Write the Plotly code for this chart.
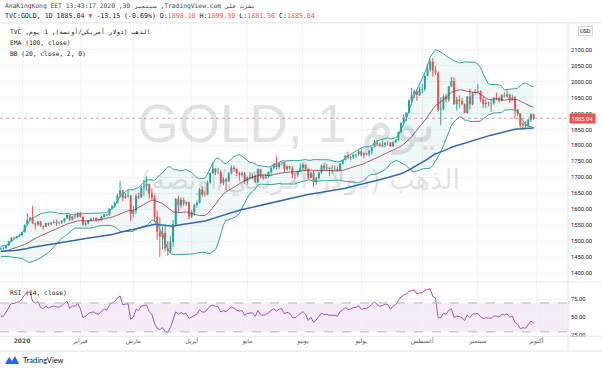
import numpy as np
import pandas as pd
import plotly.graph_objects as go

# ---------------- data (TVC:GOLD daily) ----------------
holidays = ["2019-12-25", "2020-01-01", "2020-04-10"]
dates = [d for d in pd.bdate_range("2019-12-19", "2020-09-30") if d.strftime("%Y-%m-%d") not in holidays]

opens = [
    1475, 1478, 1478, 1486, 1499, 1511, 1510, 1515,
    1518, 1528, 1552, 1566, 1574, 1556, 1552, 1562, 1548, 1545, 1557, 1552, 1557, 1560, 1558, 1558, 1563, 1571, 1582, 1567, 1577, 1576,
    1589, 1577, 1552, 1556, 1566, 1570, 1572, 1567, 1566, 1576, 1584, 1581, 1602, 1611, 1620, 1643, 1659, 1636, 1641, 1643,
    1585, 1595, 1641, 1637, 1669, 1673, 1679, 1649, 1636, 1576, 1530, 1514, 1526, 1477, 1470, 1498, 1553, 1632, 1612, 1629, 1617, 1622,
    1577, 1591, 1613, 1620, 1662, 1647, 1646, 1683, 1713, 1727, 1717, 1717, 1683, 1694, 1687, 1714, 1730, 1726, 1713, 1708, 1713,
    1687, 1700, 1701, 1705, 1685, 1725, 1703, 1698, 1702, 1716, 1730, 1743, 1732, 1745, 1748, 1725, 1734, 1729, 1709, 1708, 1718,
    1730, 1740, 1727, 1698, 1714, 1685, 1697, 1715, 1737, 1728, 1730, 1726, 1727, 1726, 1722, 1743, 1754, 1768, 1761, 1763, 1771, 1772,
    1781, 1770, 1775, 1774, 1783, 1795, 1809, 1803, 1798, 1802, 1809, 1808, 1797, 1810, 1818, 1842, 1871, 1888, 1902, 1941, 1958, 1970, 1958,
    1975, 1977, 2019, 2038, 2063, 2035, 2028, 1912, 1915, 1954, 1944, 1985, 2002, 1929, 1944, 1940, 1929, 1902, 1954, 1929, 1964,
    1968, 1970, 1944, 1930, 1934, 1932, 1932, 1947, 1946, 1940, 1957, 1954, 1960, 1944, 1950, 1912, 1900, 1863, 1868, 1862, 1881, 1898.10,
]
highs = [
    1481, 1481, 1485, 1499, 1513, 1514, 1516, 1524,
    1530, 1553, 1588, 1575, 1611, 1558, 1563, 1563, 1549, 1558, 1558, 1561, 1565, 1568, 1562, 1567, 1573, 1588, 1582, 1578, 1589, 1591,
    1592, 1577, 1562, 1567, 1574, 1575, 1575, 1570, 1580, 1585, 1585, 1603, 1612, 1624, 1649, 1689, 1661, 1650, 1660, 1645,
    1610, 1649, 1652, 1674, 1692, 1703, 1680, 1665, 1645, 1596, 1575, 1546, 1548, 1500, 1514, 1566, 1635, 1642, 1637, 1636, 1625, 1625,
    1597, 1617, 1627, 1667, 1671, 1656, 1690, 1715, 1747, 1729, 1730, 1723, 1700, 1698, 1716, 1738, 1738, 1727, 1718, 1718, 1717,
    1703, 1716, 1711, 1710, 1728, 1725, 1709, 1712, 1719, 1732, 1744, 1765, 1746, 1748, 1749, 1737, 1736, 1735, 1715, 1722, 1744,
    1745, 1741, 1728, 1718, 1720, 1701, 1718, 1740, 1745, 1743, 1733, 1738, 1737, 1733, 1746, 1756, 1769, 1780, 1768, 1773, 1774, 1785,
    1788, 1779, 1777, 1786, 1797, 1818, 1818, 1809, 1816, 1810, 1813, 1811, 1813, 1820, 1843, 1872, 1898, 1905, 1945, 1981, 1975, 1977, 1984,
    1994, 2020, 2055, 2070, 2075, 2049, 2032, 1951, 1960, 1962, 1987, 2015, 2014, 1953, 1957, 1949, 1932, 1954, 1977, 1968, 1977,
    1992, 1973, 1953, 1946, 1937, 1944, 1952, 1966, 1953, 1962, 1966, 1973, 1962, 1960, 1955, 1915, 1901, 1875, 1876, 1883, 1901, 1899.39,
]
lows = [
    1473, 1474, 1476, 1485, 1498, 1506, 1508, 1512,
    1517, 1527, 1551, 1563, 1553, 1536, 1549, 1545, 1536, 1545, 1548, 1550, 1555, 1548, 1552, 1553, 1558, 1570, 1563, 1565, 1570, 1573,
    1573, 1548, 1547, 1552, 1561, 1567, 1562, 1561, 1564, 1574, 1578, 1580, 1599, 1604, 1618, 1636, 1625, 1632, 1636, 1563,
    1575, 1586, 1632, 1635, 1642, 1659, 1633, 1630, 1561, 1504, 1451, 1475, 1467, 1455, 1464, 1482, 1546, 1593, 1605, 1609, 1611, 1568,
    1572, 1580, 1605, 1618, 1640, 1640, 1644, 1680, 1712, 1707, 1711, 1679, 1675, 1659, 1686, 1709, 1718, 1703, 1690, 1702, 1680,
    1677, 1693, 1695, 1683, 1683, 1696, 1692, 1695, 1699, 1707, 1725, 1726, 1726, 1737, 1717, 1721, 1724, 1698, 1693, 1702, 1717,
    1723, 1722, 1693, 1697, 1670, 1677, 1694, 1711, 1721, 1721, 1704, 1711, 1721, 1718, 1720, 1740, 1753, 1758, 1753, 1758, 1762, 1768,
    1765, 1760, 1769, 1766, 1771, 1794, 1797, 1796, 1795, 1795, 1800, 1796, 1796, 1807, 1813, 1838, 1866, 1877, 1900, 1926, 1950, 1940, 1955,
    1963, 1970, 2017, 2031, 2015, 2020, 1906, 1863, 1910, 1934, 1937, 1983, 1929, 1910, 1917, 1926, 1902, 1900, 1912, 1926, 1960,
    1964, 1937, 1917, 1917, 1923, 1906, 1927, 1941, 1934, 1937, 1951, 1951, 1933, 1941, 1883, 1891, 1855, 1849, 1851, 1857, 1874, 1881.36,
]
closes = [
    1478, 1478, 1486, 1499, 1511, 1510, 1515, 1517,
    1528, 1551, 1566, 1574, 1556, 1552, 1562, 1548, 1545, 1557, 1552, 1557, 1560, 1558, 1558, 1563, 1571, 1582, 1567, 1577, 1576, 1589,
    1577, 1552, 1556, 1566, 1570, 1572, 1567, 1566, 1576, 1584, 1581, 1602, 1611, 1620, 1643, 1659, 1636, 1641, 1643, 1585,
    1595, 1641, 1637, 1669, 1673, 1679, 1649, 1636, 1576, 1530, 1514, 1526, 1477, 1470, 1498, 1553, 1632, 1612, 1629, 1617, 1622, 1577,
    1591, 1613, 1620, 1662, 1647, 1646, 1683, 1713, 1727, 1717, 1717, 1683, 1694, 1687, 1714, 1730, 1726, 1713, 1708, 1713, 1687,
    1700, 1701, 1705, 1685, 1725, 1703, 1698, 1702, 1716, 1730, 1743, 1732, 1745, 1748, 1725, 1734, 1729, 1709, 1708, 1718, 1730,
    1740, 1727, 1698, 1714, 1685, 1697, 1715, 1737, 1728, 1730, 1726, 1727, 1726, 1722, 1743, 1754, 1768, 1761, 1763, 1771, 1772, 1781,
    1770, 1775, 1774, 1783, 1795, 1809, 1803, 1798, 1802, 1809, 1808, 1797, 1810, 1818, 1842, 1871, 1888, 1902, 1941, 1958, 1970, 1958, 1975,
    1977, 2019, 2038, 2063, 2035, 2028, 1912, 1915, 1954, 1944, 1985, 2002, 1929, 1944, 1940, 1929, 1902, 1954, 1929, 1964, 1968,
    1970, 1944, 1930, 1934, 1932, 1932, 1947, 1946, 1940, 1957, 1954, 1960, 1944, 1950, 1912, 1900, 1863, 1868, 1862, 1881, 1898.19, 1885.04,
]
# closes before the visible range (Nov 6 - Dec 18, 2019), used only to warm up the indicators
warmup_closes = [1490, 1467, 1459, 1456, 1456, 1463, 1471, 1468, 1472, 1471, 1473, 1464, 1462, 1456, 1462,
                 1454, 1458, 1464, 1463, 1477, 1474, 1476, 1460, 1462, 1465, 1475, 1469, 1476, 1476, 1476, 1475]
ema_seed = 1468  # EMA(100) level before the warm-up window

month_labels = ["<b>2020</b>", "فبراير", "مارس", "أبريل", "مايو", "يونيو", "يوليو", "أغسطس", "سبتمبر", "أكتوبر"]
price_ticks = list(range(1400, 2101, 50))
rsi_ticks = [25, 50, 75]

assert len(dates) == len(opens) == len(highs) == len(lows) == len(closes)
n = len(closes)
idx = list(range(n))

# ---------------- indicators ----------------
allc = np.array(warmup_closes + closes, dtype=float)
nw = len(warmup_closes)
alpha = 2 / 101
ema = []
e = ema_seed
for c in allc:
    e = alpha * c + (1 - alpha) * e
    ema.append(e)
ema = ema[nw:]
s = pd.Series(allc)
basis = s.rolling(20).mean().values[nw:]
sd = s.rolling(20).std(ddof=0).values[nw:]
upper = basis + 2 * sd
lower = basis - 2 * sd
d = np.diff(allc)
g = np.clip(d, 0, None)
l = np.clip(-d, 0, None)
ag, al = g[:14].mean(), l[:14].mean()
rsi_all = [np.nan] * 15
for k in range(14, len(d)):
    ag = (ag * 13 + g[k]) / 14
    al = (al * 13 + l[k]) / 14
    rsi_all.append(100 - 100 / (1 + ag / al) if al > 0 else 100)
rsi = rsi_all[nw:]

# month tick positions (first bar of each month, plus October after the last bar)
tickpos = []
prev = None
for i, dt in enumerate(dates):
    if dt.month != prev:
        prev = dt.month
        if dt.month != 12:
            tickpos.append(i)
tickpos.append(n)

# ---------------- geometry helpers ----------------
W, H = 602, 373
def px(x): return x / W
def py(y): return 1 - y / H

XR = [-0.3, 214.0]
UP, DN = "#26a69a", "#ef5350"
TXT = "#131722"

fig = go.Figure()

# watermark (drawn first so candles sit above it)
fig.add_trace(go.Scatter(x=[108], y=[1852], mode="text", text=["GOLD, 1 يوم"],
                         textfont=dict(size=53, color="rgba(150,152,160,0.28)", family="Liberation Sans"),
                         hoverinfo="skip", showlegend=False))
fig.add_trace(go.Scatter(x=[113], y=[1686], mode="text", text=["الذهب (دولار أمريكي/أونصة)"],
                         textfont=dict(size=27, color="rgba(150,152,160,0.28)", family="DejaVu Sans"),
                         hoverinfo="skip", showlegend=False))

# Bollinger fill
fig.add_trace(go.Scatter(x=idx, y=upper, mode="lines", line=dict(width=0), hoverinfo="skip", showlegend=False))
fig.add_trace(go.Scatter(x=idx, y=lower, mode="lines", line=dict(width=0), fill="tonexty",
                         fillcolor="rgba(25,135,135,0.07)", hoverinfo="skip", showlegend=False))

# candles
def seg(sel, a, b):
    xs, ys = [], []
    for i in sel:
        lo, hi = a[i], b[i]
        if abs(hi - lo) < 1.2:
            m = (hi + lo) / 2
            lo, hi = m - 0.6, m + 0.6
        xs += [i, i, None]
        ys += [lo, hi, None]
    return xs, ys

up_i = [i for i in idx if closes[i] >= opens[i]]
dn_i = [i for i in idx if closes[i] < opens[i]]
for sel, col in ((up_i, UP), (dn_i, DN)):
    xs, ys = seg(sel, lows, highs)
    fig.add_trace(go.Scatter(x=xs, y=ys, mode="lines", line=dict(color=col, width=1),
                             hoverinfo="skip", showlegend=False))
for sel, col in ((up_i, UP), (dn_i, DN)):
    xs, ys = seg(sel, opens, closes)
    fig.add_trace(go.Scatter(x=xs, y=ys, mode="lines", line=dict(color=col, width=2),
                             hoverinfo="skip", showlegend=False))

# Bollinger lines
fig.add_trace(go.Scatter(x=idx, y=basis, mode="lines", line=dict(color="rgba(135,35,35,0.7)", width=1),
                         hoverinfo="skip", showlegend=False))
for band in (upper, lower):
    fig.add_trace(go.Scatter(x=idx, y=band, mode="lines", line=dict(color="#3aa394", width=1),
                             hoverinfo="skip", showlegend=False))
# EMA
fig.add_trace(go.Scatter(x=idx, y=ema, mode="lines", line=dict(color="#3567b0", width=1.5),
                         hoverinfo="skip", showlegend=False))

# RSI
fig.add_trace(go.Scatter(x=idx, y=rsi, mode="lines", line=dict(color="#a652c8", width=1),
                         xaxis="x2", yaxis="y2", hoverinfo="skip", showlegend=False))

GRID = "#f0f3fa"
AX_FONT = dict(family="Roboto", size=5.8, color=TXT)
fig.update_layout(
    width=W, height=H, margin=dict(l=0, r=0, t=0, b=0), autosize=False,
    paper_bgcolor="white", plot_bgcolor="white", showlegend=False,
    xaxis=dict(domain=[0, px(568)], range=XR, showticklabels=False, tickmode="array",
               tickvals=tickpos, showgrid=True, gridcolor=GRID, zeroline=False, showline=False, fixedrange=True),
    yaxis=dict(domain=[py(283.5), py(23)], range=[1371.9, 2184.4], side="right", tickmode="array",
               tickvals=price_ticks, ticktext=[f"{v:.2f}" for v in price_ticks], tickfont=AX_FONT,
               ticklabelstandoff=2, showgrid=True, gridcolor=GRID, zeroline=False, showline=False),
    xaxis2=dict(domain=[0, px(568)], range=XR, anchor="y2", matches="x", tickmode="array",
                tickvals=tickpos, ticktext=month_labels,
                tickfont=dict(family="DejaVu Sans", size=6, color="#50535e"),
                ticks="", showgrid=True, gridcolor=GRID, zeroline=False, showline=False),
    yaxis2=dict(domain=[py(338), py(284.5)], range=[24.0, 97.7], side="right", anchor="x2", tickmode="array",
                tickvals=rsi_ticks, ticktext=[f"{v:.2f}" for v in rsi_ticks], tickfont=AX_FONT,
                ticklabelstandoff=2, showgrid=True, gridcolor=GRID, zeroline=False, showline=False),
)

shapes = []
LINE = "#e0e3eb"
shapes.append(dict(type="rect", xref="x2", yref="y2", x0=XR[0], x1=XR[1], y0=30, y1=70,
                   fillcolor="rgba(156,39,176,0.09)", line=dict(width=0), layer="below"))
for lv in (30, 70):
    shapes.append(dict(type="line", xref="x2", yref="y2", x0=XR[0], x1=XR[1], y0=lv, y1=lv,
                       line=dict(color="#b2b5be", width=1, dash="dash")))
shapes.append(dict(type="line", xref="x", yref="y", x0=XR[0], x1=XR[1], y0=closes[-1], y1=closes[-1],
                   line=dict(color="rgba(239,83,80,0.55)", width=1, dash="dot")))
for yy in (23, 283.5, 338, 353):
    shapes.append(dict(type="line", xref="paper", yref="paper", x0=0, x1=1, y0=py(yy), y1=py(yy),
                       line=dict(color=LINE, width=1)))
shapes.append(dict(type="line", xref="paper", yref="paper", x0=px(568), x1=px(568), y0=py(353), y1=py(23),
                   line=dict(color=LINE, width=1)))
pts = [(5, 366), (9, 359), (12, 363), (15, 358), (19, 366)]
path = "M " + " L ".join(f"{px(a):.5f} {py(b):.5f}" for a, b in pts) + " Z"
shapes.append(dict(type="path", xref="paper", yref="paper", path=path, fillcolor="#2962ff", line=dict(width=0)))
fig.update_layout(shapes=shapes)

MONO = "DejaVu Sans Mono"
chg = closes[-1] - closes[-2]
pct = chg / closes[-2] * 100
red = lambda t: f"<span style='color:{DN}'>{t}</span>"
hdr2 = (f"TVC:GOLD, 1D {closes[-1]:.2f} {red('▼')} {chg:.2f} ({pct:.2f}%) "
        f"O:{red(f'{opens[-1]:.2f}')} H:{red(f'{highs[-1]:.2f}')} L:{red(f'{lows[-1]:.2f}')} C:{red(f'{closes[-1]:.2f}')}")
ann = [
    dict(x=px(3), y=py(6), text="AnaKingKong EET 13:43:17 2020 ,30 سبتمبر ,TradingView.com نشرت على",
         font=dict(family=MONO, size=6.3, color="#434651")),
    dict(x=px(3), y=py(16), text=hdr2, font=dict(family=MONO, size=6.6, color=TXT)),
    dict(x=px(8), y=py(32), text="TVC ,الذهب (دولار أمريكي/أونصة), 1 يوم", font=dict(family=MONO, size=6.3, color=TXT)),
    dict(x=px(8), y=py(43), text="EMA (100, close)", font=dict(family=MONO, size=6.3, color=TXT)),
    dict(x=px(8), y=py(54), text="BB (20, close, 2, 0)", font=dict(family=MONO, size=6.3, color=TXT)),
    dict(x=px(8), y=py(294), text="RSI (14, close)", font=dict(family=MONO, size=6.3, color=TXT)),
    dict(x=px(21), y=py(362), text="TradingView", font=dict(family="Lato", size=7.5, color=TXT)),
]
annotations = []
for a in ann:
    a.update(xref="paper", yref="paper", xanchor="left", yanchor="middle", showarrow=False)
    annotations.append(a)
annotations.append(dict(xref="paper", yref="paper", x=px(585), y=py(31), text="USD", showarrow=False,
                        font=dict(family="Roboto", size=5.5, color=TXT), bordercolor="#d1d4dc", borderwidth=1,
                        borderpad=1, bgcolor="white", xanchor="center", yanchor="middle"))
annotations.append(dict(xref="paper", yref="y", x=px(569), y=closes[-1], text=f"{closes[-1]:.2f}", showarrow=False,
                        font=dict(family="Roboto", size=5.8, color="white"), bgcolor=DN, borderpad=1.5,
                        xanchor="left", yanchor="middle"))
fig.update_layout(annotations=annotations)

fig.write_html("out.html", config={"displayModeBar": False, "staticPlot": True},
               post_script="document.body.style.margin='0';")
